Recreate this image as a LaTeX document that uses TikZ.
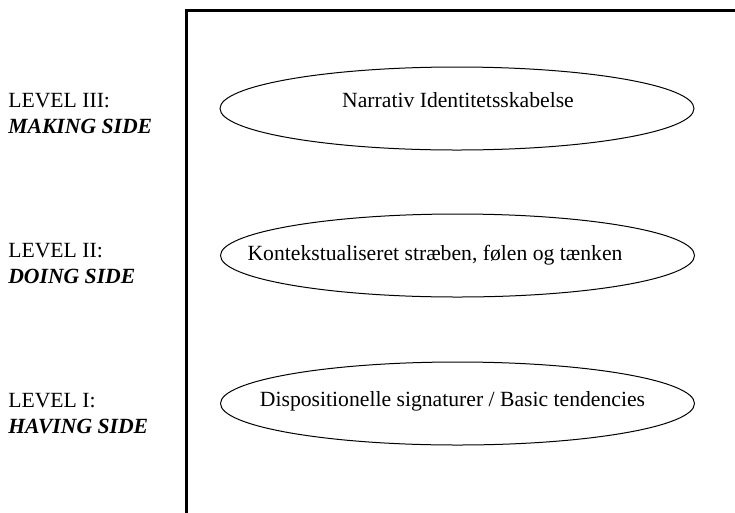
\documentclass[tikz,border=0pt]{standalone}
\usepackage{fontspec}
\setmainfont{Liberation Serif}
\usetikzlibrary{shapes.geometric}

\begin{document}
\begin{tikzpicture}[
    x=0.6pt, y=-0.6pt,
    frame/.style={draw=black, line width=1.8pt},
    oval/.style={draw=black, ellipse, line width=0.6pt, minimum width=284.4pt, minimum height=49.8pt, inner sep=0pt},
    ovaltext/.style={anchor=base, inner sep=0pt, font=\fontsize{13}{15.6}\selectfont},
    side/.style={anchor=base west, align=left, inner sep=0pt, font=\fontsize{13}{15.6}\selectfont},
]
    \useasboundingbox (0,0) rectangle (735,512);

    % Frame
    \coordinate (framebl) at (186,530);
    \coordinate (frametl) at (186,10);
    \coordinate (frametr) at (750,10);
    \draw[frame] (framebl) -- (frametl) -- (frametr);

    % Level III
    \node[side] (level3) at (8,133) {LEVEL III:\\\textbf{\textit{MAKING SIDE}}};
    \node[oval] (narr) at (457,108.5) {};
    \node[ovaltext] (narrtext) at (458,107) {Narrativ Identitetsskabelse};

    % Level II
    \node[side] (level2) at (8,283) {LEVEL II:\\\textbf{\textit{DOING SIDE}}};
    \node[oval] (kont) at (457.5,255.5) {};
    \node[ovaltext] (konttext) at (435,260) {Kontekstualiseret stræben, følen og tænken};

    % Level I
    \node[side] (level1) at (8,433) {LEVEL I:\\\textbf{\textit{HAVING SIDE}}};
    \node[oval] (disp) at (457.5,403.5) {};
    \node[ovaltext] (disptext) at (452.5,406) {Dispositionelle signaturer / Basic tendencies};
\end{tikzpicture}
\end{document}
